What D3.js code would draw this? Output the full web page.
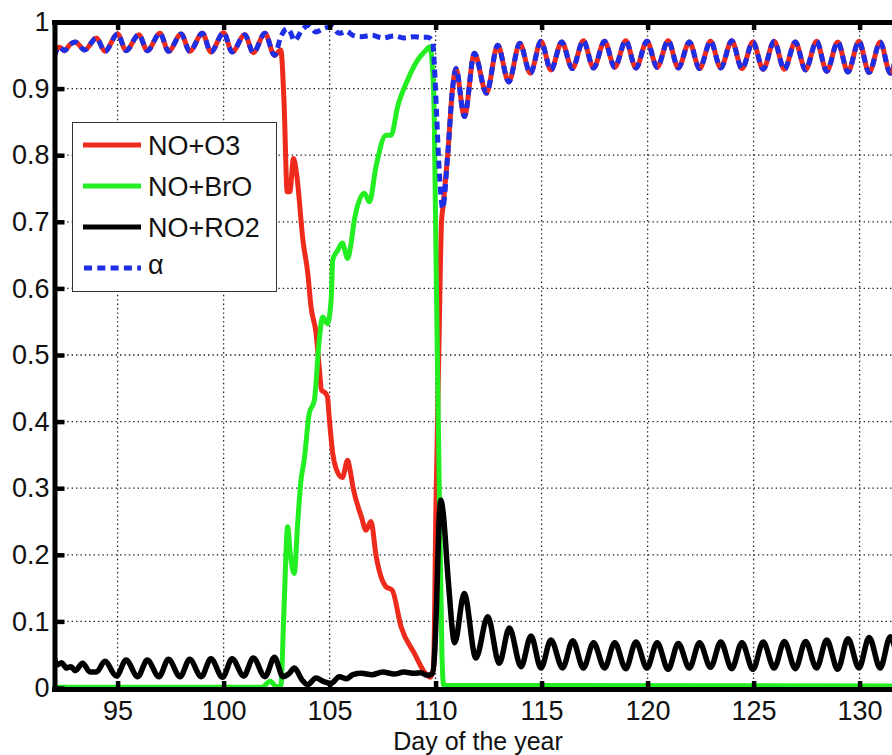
<!DOCTYPE html>
<html><head><meta charset="utf-8">
<script src="https://cdn.jsdelivr.net/npm/d3@7"></script>
<style>
body{margin:0;background:#fff;}
text{font-family:"Liberation Sans",Arial,Helvetica,sans-serif;fill:#111;}
</style>
</head><body><svg id="c" width="892" height="755"></svg>
<script>
// ---------------- DATA ----------------
const xTicks = [95,100,105,110,115,120,125,130];
const yTicks = [0,0.1,0.2,0.3,0.4,0.5,0.6,0.7,0.8,0.9,1];
const yTickLabels = ["0","0.1","0.2","0.3","0.4","0.5","0.6","0.7","0.8","0.9","1"];
const xLabel = "Day of the year";
const seriesNames = ["NO+O3","NO+BrO","NO+RO2","\u03B1"];

// NO+O3 (red)
const noO3 = [[92.0,0.948],[92.25,0.962],[92.5,0.957],[92.75,0.966],[93.0,0.970],[93.45,0.958],[94.0,0.976],[94.4,0.956],
[95.0,0.982],[95.4,0.957],[96.0,0.981],[96.4,0.957],[97.0,0.983],[97.4,0.956],[98.0,0.982],[98.4,0.956],[99.0,0.983],
[99.4,0.955],[100.0,0.984],[100.4,0.955],[101.0,0.981],[101.4,0.954],[101.95,0.983],[102.4,0.950],[102.7,0.958],
[102.85,0.88],[103.0,0.745],[103.12,0.745],[103.3,0.795],[103.45,0.77],[103.75,0.67],[103.97,0.623],[104.12,0.573],
[104.36,0.533],[104.51,0.482],[104.62,0.447],[104.8,0.443],[104.9,0.437],[104.98,0.407],[105.15,0.352],[105.3,0.33],
[105.6,0.316],[105.85,0.342],[105.95,0.33],[106.1,0.302],[106.5,0.257],[106.72,0.237],[106.95,0.25],[107.2,0.197],
[107.66,0.152],[107.95,0.147],[108.37,0.092],[109.0,0.052],[109.47,0.024],[109.75,0.016],[109.9,0.03],[110.02,0.28],
[110.15,0.5],[110.28,0.7],[110.36,0.725],[110.57,0.80],[110.8,0.9],[110.96,0.93],[111.36,0.858],[111.83,0.953],
[112.4,0.893],[112.93,0.965],[113.45,0.91],[113.97,0.968],[114.47,0.923],[114.97,0.971],[115.44,0.928],[115.95,0.970],
[116.45,0.93],[116.97,0.972],[117.45,0.931],[117.97,0.971],[118.45,0.932],[118.97,0.972],[119.45,0.931],[119.97,0.971],
[120.45,0.932],[120.97,0.972],[121.45,0.931],[121.97,0.970],[122.45,0.930],[122.97,0.971],[123.45,0.931],[123.97,0.972],
[124.45,0.930],[124.97,0.970],[125.45,0.929],[125.97,0.971],[126.45,0.929],[126.97,0.970],[127.45,0.928],[127.97,0.971],
[128.45,0.926],[128.97,0.970],[129.45,0.925],[129.97,0.971],[130.45,0.924],[130.97,0.970],[131.45,0.923],[131.97,0.970],[132.0,0.970]];

// NO+BrO (green)
const noBrO = [[92.0,0.001],[101.8,0.001],[102.2,0.01],[102.5,0.002],[102.7,0.003],[102.85,0.12],[103.02,0.242],[103.15,0.2],
[103.33,0.172],[103.5,0.25],[103.65,0.312],[103.8,0.342],[104.04,0.412],[104.28,0.432],[104.51,0.522],[104.67,0.557],
[104.9,0.547],[105.07,0.582],[105.15,0.643],[105.38,0.657],[105.6,0.668],[105.85,0.645],[106.0,0.665],[106.17,0.703],
[106.64,0.743],[106.88,0.73],[107.19,0.783],[107.66,0.83],[107.9,0.83],[108.21,0.873],[108.68,0.913],[109.16,0.943],
[109.55,0.958],[109.72,0.963],[109.86,0.928],[109.94,0.85],[110.02,0.643],[110.15,0.35],[110.3,0.05],[110.38,0.004],
[132.0,0.003]];

// NO+RO2 (black)
const noRO2 = [[92.0,0.047],[92.15,0.035],[92.35,0.038],[92.6,0.03],[92.8,0.032],[93.0,0.026],[93.35,0.037],[93.7,0.024],
[94.0,0.024],[94.4,0.040],[94.95,0.018],[95.4,0.042],[95.95,0.017],[96.4,0.042],[96.95,0.017],[97.4,0.043],[97.95,0.017],
[98.4,0.043],[98.95,0.017],[99.4,0.044],[99.95,0.016],[100.4,0.044],[100.95,0.018],[101.4,0.045],[101.95,0.017],
[102.4,0.046],[102.8,0.017],[103.1,0.022],[103.34,0.03],[103.7,0.012],[103.97,0.005],[104.36,0.015],[104.7,0.01],
[105.07,0.007],[105.46,0.017],[105.8,0.014],[106.1,0.02],[106.5,0.022],[107.0,0.02],[107.5,0.024],[108.05,0.021],
[108.5,0.024],[109.0,0.022],[109.3,0.023],[109.63,0.019],[109.85,0.022],[109.95,0.05],[110.05,0.13],[110.15,0.24],
[110.25,0.282],[110.35,0.265],[110.6,0.16],[110.9,0.068],[111.35,0.142],[111.9,0.045],[112.46,0.107],[113.0,0.037],
[113.48,0.09],[114.03,0.032],[114.5,0.078],[114.97,0.030],[115.44,0.072],[115.99,0.030],[116.47,0.071],[116.97,0.030],
[117.45,0.068],[117.97,0.030],[118.45,0.068],[118.97,0.029],[119.45,0.069],[119.97,0.030],[120.45,0.068],[120.97,0.028],
[121.45,0.067],[121.97,0.030],[122.45,0.068],[122.97,0.031],[123.45,0.069],[123.97,0.029],[124.45,0.068],[124.97,0.028],
[125.45,0.069],[125.97,0.030],[126.45,0.070],[126.97,0.029],[127.45,0.070],[127.97,0.030],[128.45,0.072],[128.97,0.028],
[129.45,0.074],[129.97,0.030],[130.45,0.076],[130.97,0.030],[131.45,0.077],[131.97,0.030],[132.0,0.030]];

// alpha (blue dashed)
const alphaVals = [[92.0,0.948],[92.25,0.962],[92.5,0.957],[92.75,0.966],[93.0,0.970],[93.45,0.958],[94.0,0.976],[94.4,0.956],
[95.0,0.982],[95.4,0.957],[96.0,0.981],[96.4,0.957],[97.0,0.983],[97.4,0.956],[98.0,0.982],[98.4,0.956],[99.0,0.983],
[99.4,0.955],[100.0,0.984],[100.4,0.955],[101.0,0.981],[101.4,0.954],[101.95,0.983],[102.4,0.950],[102.7,0.978],
[103.0,0.99],[103.15,0.985],[103.34,0.972],[103.7,0.988],[104.0,0.995],[104.36,0.985],[104.7,0.99],[105.07,0.993],
[105.46,0.983],[105.8,0.986],[106.1,0.98],[106.5,0.978],[107.0,0.98],[107.5,0.976],[108.05,0.979],[108.5,0.976],
[109.0,0.978],[109.3,0.977],[109.63,0.977],[109.85,0.972],[109.95,0.93],[110.05,0.86],[110.15,0.79],[110.25,0.74],
[110.33,0.72],[110.57,0.80],[110.8,0.9],[110.96,0.93],[111.36,0.858],[111.83,0.953],
[112.4,0.893],[112.93,0.965],[113.45,0.91],[113.97,0.968],[114.47,0.923],[114.97,0.971],[115.44,0.928],[115.95,0.970],
[116.45,0.93],[116.97,0.972],[117.45,0.931],[117.97,0.971],[118.45,0.932],[118.97,0.972],[119.45,0.931],[119.97,0.971],
[120.45,0.932],[120.97,0.972],[121.45,0.931],[121.97,0.970],[122.45,0.930],[122.97,0.971],[123.45,0.931],[123.97,0.972],
[124.45,0.930],[124.97,0.970],[125.45,0.929],[125.97,0.971],[126.45,0.929],[126.97,0.970],[127.45,0.928],[127.97,0.971],
[128.45,0.926],[128.97,0.970],[129.45,0.925],[129.97,0.971],[130.45,0.924],[130.97,0.970],[131.45,0.923],[131.97,0.970],[132.0,0.970]];

// ---------------- DRAWING ----------------
const colors = ["#ee2a1c","#22ee22","#000000","#1c2ee6"];
const svg = d3.select("#c");
const x = d3.scaleLinear().domain([92,132]).range([54,902]);
const y = d3.scaleLinear().domain([0,1]).range([688,22]);

svg.append("rect").attr("width",892).attr("height",755).attr("fill","#fff");

// grid
const grid = svg.append("g");
grid.selectAll("line.gx").data(xTicks).enter().append("line")
  .attr("x1",d=>x(d)).attr("x2",d=>x(d)).attr("y1",y(1)).attr("y2",y(0))
  .attr("stroke","#222").attr("stroke-width",1.3).attr("stroke-dasharray","1.4,3");
grid.selectAll("line.gy").data(yTicks.filter(v=>v>0&&v<1)).enter().append("line")
  .attr("y1",d=>y(d)).attr("y2",d=>y(d)).attr("x1",x(92)).attr("x2",x(132))
  .attr("stroke","#222").attr("stroke-width",1.3).attr("stroke-dasharray","1.4,3");

// clip
svg.append("clipPath").attr("id","plotclip").append("rect")
  .attr("x",x(92)).attr("y",y(1)).attr("width",x(132)-x(92)).attr("height",y(0)-y(1));

const line = d3.line().x(d=>x(d[0])).y(d=>y(d[1])).curve(d3.curveMonotoneX);
const plot = svg.append("g").attr("clip-path","url(#plotclip)");
const series = [noO3, noBrO, noRO2, alphaVals];
series.forEach((s,i)=>{
  const p = plot.append("path").datum(s).attr("d",line).attr("fill","none")
    .attr("stroke",colors[i]).attr("stroke-width",i===2?5.5:5)
    .attr("stroke-linejoin","round").attr("stroke-linecap","round");
  if(i===3){ p.attr("stroke-dasharray","8,5").attr("stroke-linecap","butt"); }
});

// axes
function styleAxis(g){
  g.select(".domain").attr("stroke","#000").attr("stroke-width",5).attr("stroke-linecap","square");
  g.selectAll(".tick line").attr("stroke","#000").attr("stroke-width",4.5);
  g.selectAll(".tick text").attr("font-size",27).attr("fill","#111")
   .attr("font-family","'Liberation Sans',Arial,Helvetica,sans-serif");
}
const fmtY = d=>yTickLabels[yTicks.indexOf(d)];
svg.append("g").attr("transform",`translate(0,${y(0)+1})`)
  .call(d3.axisBottom(x).tickValues(xTicks).tickSizeInner(-8).tickSizeOuter(0).tickPadding(12).tickFormat(d3.format("d")))
  .call(styleAxis);
svg.append("g").attr("transform",`translate(0,${y(1)})`)
  .call(d3.axisTop(x).tickValues(xTicks).tickSizeInner(-8).tickSizeOuter(0).tickFormat(""))
  .call(styleAxis);
svg.append("g").attr("transform",`translate(${x(92)+0.5},0)`)
  .call(d3.axisLeft(y).tickValues(yTicks).tickSizeInner(-10).tickSizeOuter(0).tickPadding(5).tickFormat(fmtY))
  .call(styleAxis);
svg.append("g").attr("transform",`translate(${x(132)},0)`)
  .call(d3.axisRight(y).tickValues(yTicks).tickSizeInner(-10).tickSizeOuter(0).tickFormat(""))
  .call(styleAxis);

// x label
svg.append("text").attr("x",(x(92)+x(132))/2).attr("y",749.5).attr("text-anchor","middle")
  .attr("font-size",25).text(xLabel);

// legend
const lg = svg.append("g");
lg.append("rect").attr("x",72.5).attr("y",122.5).attr("width",204).attr("height",169)
  .attr("fill","#fff").attr("stroke","#333").attr("stroke-width",1);
seriesNames.forEach((n,i)=>{
  const cy = 145 + i*41;
  const l = lg.append("line").attr("x1",83).attr("x2",141).attr("y1",cy).attr("y2",cy)
    .attr("stroke",colors[i]).attr("stroke-width",5);
  if(i===3) l.attr("stroke-dasharray","8,5.3").attr("x1",84);
  const t = lg.append("text").attr("x",148).attr("y",cy+9.5).attr("font-size",27).text(n);
  if(i===3) t.attr("font-family","'Liberation Serif','Times New Roman',serif").attr("y",cy+6);
});
</script></body></html>
